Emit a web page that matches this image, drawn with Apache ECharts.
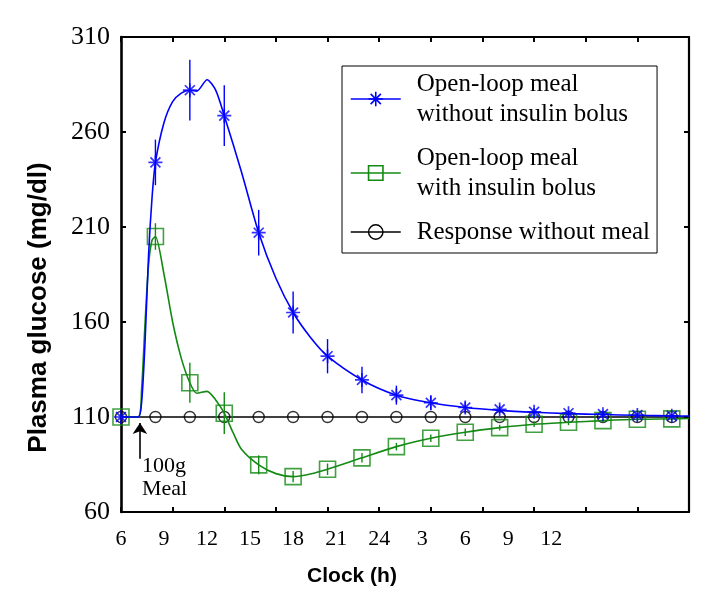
<!DOCTYPE html>
<html>
<head>
<meta charset="utf-8">
<script src="https://cdn.jsdelivr.net/npm/echarts@6/dist/echarts.min.js"></script>
<style>
  html, body { margin: 0; padding: 0; background: #fff; }
  #chart { width: 724px; height: 599px; }
</style>
</head>
<body>
<div id="chart"></div>
<script>
// hours after 06:00, one sample every 2 h
const sampleX = [0, 2, 4, 6, 8, 10, 12, 14, 16, 18, 20, 22, 24, 26, 28, 30, 32];

const blueMean = [110, 244, 282, 268.6, 207, 165, 142, 129.5, 121.5, 117.5, 115, 114, 112.7, 112, 111.5, 111, 110.6];
const blueErr  = [0, 12, 16, 16, 12, 11, 9, 7, 5, 4, 3, 2, 2, 1.5, 1.5, 1, 1];

const greenMean = [110, 205, 128, 112, 84.8, 78.6, 82.5, 88.5, 94.4, 98.8, 102, 104.4, 106.2, 107.2, 108.1, 108.8, 109];
const greenErr  = [0, 7, 10.5, 11, 5, 3, 3, 2.5, 2, 2, 2, 1.5, 1.5, 1.5, 1, 1, 1];

const baseMean = [110, 110, 110, 110, 110, 110, 110, 110, 110, 110, 110, 110, 110, 110, 110, 110, 110];

// model curves
const blueCurveX = [0, 1, 1.2, 1.4, 1.6, 1.8, 2, 2.5, 3, 3.5, 4, 4.4, 5, 5.5, 6, 7, 8, 9, 10, 11, 12, 14, 16, 18, 20, 22, 24, 26, 28, 30, 32, 33];
const blueCurveY = [110, 110, 118, 150, 195, 225, 244, 265, 276, 280.5, 282, 281.5, 287.5, 282, 268.6, 239, 207, 183, 165, 152, 142, 129.5, 121.5, 117.5, 115, 113.5, 112.5, 111.8, 111.3, 110.9, 110.6, 110.5];

const greenCurveX = [0, 1, 1.2, 1.4, 1.6, 1.8, 2, 2.5, 3, 3.5, 4, 4.4, 5, 5.5, 6, 6.5, 7, 8, 9, 10, 11, 12, 14, 16, 18, 20, 22, 24, 26, 28, 30, 32, 33];
const greenCurveY = [110, 110, 125, 160, 190, 203, 205, 185, 160, 141, 128, 122.5, 123.5, 119, 112, 102, 93, 84.8, 80.2, 78.6, 80, 82.5, 88.5, 94.4, 98.8, 102, 104.4, 106.2, 107.2, 108.1, 108.8, 109, 109.2];

const baseCurveX = [0, 33];
const baseCurveY = [110, 110];

// axis ticks and labels
const xTickValues = [0, 3, 6, 9, 12, 15, 18, 21, 24, 27, 30, 33];
const xLabelValues = [0, 2.5, 5, 7.5, 10, 12.5, 15, 17.5, 20, 22.5, 25];
const xLabelText = ['6', '9', '12', '15', '18', '21', '24', '3', '6', '9', '12'];

const legendNames = ['Open-loop meal without insulin bolus', 'Open-loop meal with insulin bolus', 'Response without meal'];
const legendText = ['Open-loop meal\nwithout insulin bolus', 'Open-loop meal\nwith insulin bolus', 'Response without meal'];

const BLUE = '#0000ff';
const GREEN = '#138a13';
const BLACK = '#000000';
const SERIF = 'Liberation Serif';
const SANS = 'Liberation Sans';
const ASTERISK = 'path://M0,-10L0,10M-10,0L10,0M-7.1,-7.1L7.1,7.1M-7.1,7.1L7.1,-7.1';

function pairs(xs, ys) {
  return xs.map(function (x, i) { return [x, ys[i]]; });
}
function bars(mean, err) {
  return sampleX.map(function (x, i) { return [x, mean[i] - err[i], mean[i] + err[i]]; });
}
function errorSeries(name, mean, err, color, z) {
  return {
    name: name,
    type: 'custom',
    z: z,
    data: bars(mean, err),
    renderItem: function (params, api) {
      const p1 = api.coord([api.value(0), api.value(1)]);
      const p2 = api.coord([api.value(0), api.value(2)]);
      return {
        type: 'line',
        shape: { x1: p1[0], y1: p1[1], x2: p2[0], y2: p2[1] },
        style: { stroke: color, lineWidth: 1.4 }
      };
    }
  };
}

const chart = echarts.init(document.getElementById('chart'));

const boxLine = { show: true, onZero: false, lineStyle: { color: BLACK, width: 2.2 } };
const tickIn = { show: true, inside: true, length: 5, lineStyle: { color: BLACK, width: 2 } };

const option = {
  animation: false,
  backgroundColor: '#fff',
  grid: { left: 121, right: 35, top: 37, bottom: 87, containLabel: false },
  xAxis: [
    {
      type: 'value', min: 0, max: 33, position: 'bottom',
      axisLine: boxLine,
      axisTick: Object.assign({}, tickIn, { customValues: xTickValues }),
      splitLine: { show: false },
      axisLabel: {
        customValues: xLabelValues,
        formatter: function (v) {
          const i = xLabelValues.indexOf(v);
          return i >= 0 ? xLabelText[i] : '';
        },
        fontFamily: SERIF, fontSize: 22, color: BLACK, margin: 16
      },
      name: 'Clock (h)', nameLocation: 'middle', nameGap: 54,
      nameTextStyle: { fontFamily: SANS, fontWeight: 'bold', fontSize: 21, color: BLACK, padding: [0, 106, 0, 0] }
    },
    {
      type: 'value', min: 0, max: 33, position: 'top',
      axisLine: boxLine,
      axisTick: Object.assign({}, tickIn, { customValues: xTickValues }),
      splitLine: { show: false },
      axisLabel: { show: false }
    }
  ],
  yAxis: [
    {
      type: 'value', min: 60, max: 310, interval: 50, position: 'left',
      axisLine: { show: true, onZero: false, lineStyle: { color: BLACK, width: 2.6 } },
      axisTick: tickIn,
      splitLine: { show: false },
      axisLabel: { fontFamily: SERIF, fontSize: 26, color: BLACK, margin: 11 },
      name: 'Plasma glucose (mg/dl)', nameLocation: 'middle', nameGap: 69,
      nameTextStyle: { fontFamily: SANS, fontWeight: 'bold', fontSize: 26, color: BLACK, padding: [0, 66, 0, 0] }
    },
    {
      type: 'value', min: 60, max: 310, interval: 50, position: 'right',
      axisLine: boxLine,
      axisTick: tickIn,
      splitLine: { show: false },
      axisLabel: { show: false }
    }
  ],
  legend: {
    orient: 'vertical',
    left: 342, top: 66,
    itemWidth: 50, itemHeight: 18, itemGap: 14,
    padding: [3, 7, 6, 8],
    borderColor: BLACK, borderWidth: 1, backgroundColor: '#fff',
    selectedMode: false,
    textStyle: { fontFamily: SERIF, fontSize: 25, lineHeight: 30, color: BLACK, padding: [0, 0, 0, 11] },
    formatter: function (name) { return legendText[legendNames.indexOf(name)]; },
    data: [
      { name: legendNames[0], itemStyle: { color: 'transparent', borderColor: BLUE, borderWidth: 1.6 }, lineStyle: { color: BLUE, width: 1.5 } },
      { name: legendNames[1], itemStyle: { color: 'transparent', borderColor: GREEN, borderWidth: 1.6 }, lineStyle: { color: GREEN, width: 1.5 } },
      { name: legendNames[2], itemStyle: { color: 'transparent', borderColor: BLACK, borderWidth: 1.4 }, lineStyle: { color: BLACK, width: 1.5 } }
    ]
  },
  series: [
    {
      name: legendNames[2], type: 'line', z: 2,
      data: pairs(baseCurveX, baseCurveY),
      showSymbol: false, symbol: 'circle',
      lineStyle: { color: BLACK, width: 1.5 },
      itemStyle: { color: 'transparent', borderColor: BLACK },
      markLine: {
        silent: true,
        symbol: ['none', 'arrow'], symbolSize: 11,
        lineStyle: { color: BLACK, width: 1.6, type: 'solid' },
        label: { show: false },
        data: [[{ coord: [1.1, 88] }, { coord: [1.1, 106.8] }]]
      },
      markPoint: {
        silent: true,
        symbol: 'circle', symbolSize: 0,
        label: {
          show: true, position: 'right', distance: 2,
          formatter: '100g\nMeal',
          fontFamily: SERIF, fontSize: 22, lineHeight: 23, color: BLACK, align: 'left'
        },
        data: [{ coord: [1.1, 78.2] }]
      }
    },
    {
      name: 'baseMarks', type: 'scatter', z: 3,
      data: pairs(sampleX, baseMean),
      symbol: 'circle', symbolSize: 11,
      itemStyle: { color: 'transparent', borderColor: BLACK, borderWidth: 1.4 }
    },
    {
      name: legendNames[1], type: 'line', z: 4,
      data: pairs(greenCurveX, greenCurveY),
      smooth: 0.25,
      showSymbol: false, symbol: 'rect',
      lineStyle: { color: GREEN, width: 1.6 },
      itemStyle: { color: 'transparent', borderColor: GREEN }
    },
    errorSeries('greenErr', greenMean, greenErr, GREEN, 5),
    {
      name: 'greenMarks', type: 'scatter', z: 5,
      data: pairs(sampleX, greenMean),
      symbol: 'rect', symbolSize: 16,
      itemStyle: { color: 'transparent', borderColor: GREEN, borderWidth: 1.6 }
    },
    {
      name: legendNames[0], type: 'line', z: 6,
      data: pairs(blueCurveX, blueCurveY),
      smooth: 0.25,
      showSymbol: false, symbol: ASTERISK,
      lineStyle: { color: BLUE, width: 1.6 },
      itemStyle: { color: 'transparent', borderColor: BLUE }
    },
    errorSeries('blueErr', blueMean, blueErr, BLUE, 7),
    {
      name: 'blueMarks', type: 'scatter', z: 7,
      data: pairs(sampleX, blueMean),
      symbol: ASTERISK, symbolSize: 14,
      itemStyle: { color: 'transparent', borderColor: BLUE, borderWidth: 1.7 }
    }
  ]
};

chart.setOption(option);
</script>
</body>
</html>
